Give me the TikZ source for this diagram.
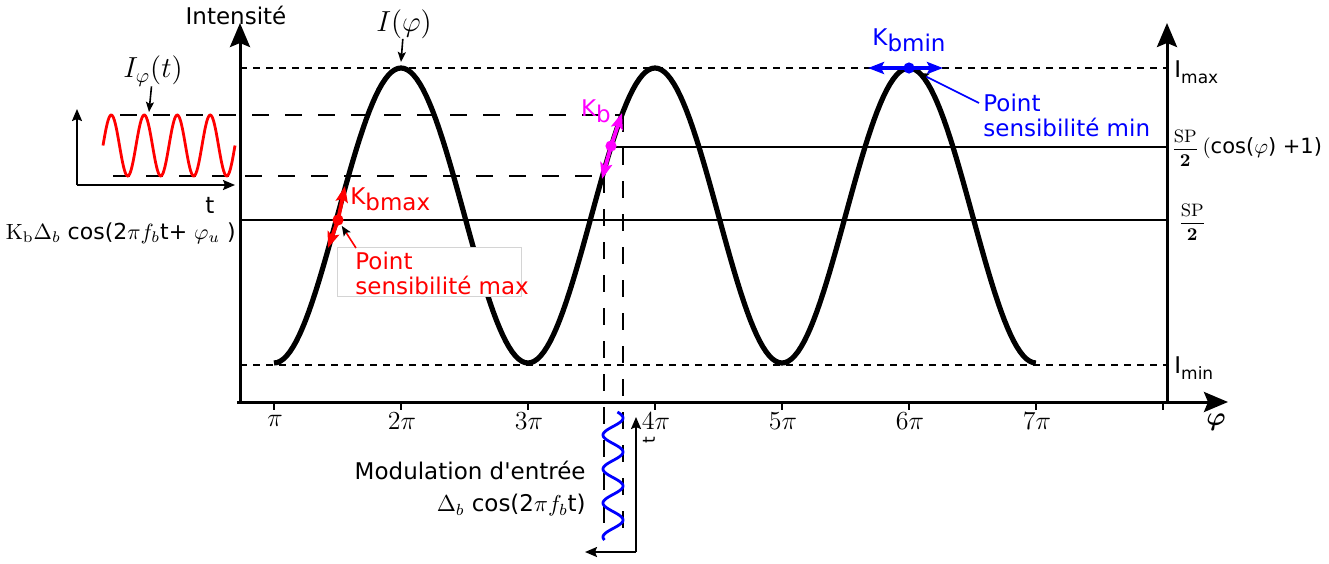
\RequirePackage{fix-cm}
\documentclass[tikz,border=0pt]{standalone}
\usepackage{amsmath,amssymb}
\usepackage[no-math]{fontspec}
\setmainfont{DejaVu Sans}
\usetikzlibrary{arrows.meta}
\definecolor{sred}{HTML}{FF0000}
\definecolor{sblue}{HTML}{0000FF}
\definecolor{smag}{HTML}{FF00FF}
\definecolor{boxgray}{HTML}{D4D4D4}
\newcommand{\Klab}[1]{K\raisebox{-0.45ex}{#1}}
\newcommand{\Ilab}[1]{I\raisebox{-0.5ex}{\fontsize{8.5}{10}\selectfont #1}}
\newcommand{\SPfrac}{{\fontsize{9}{9}\selectfont$\dfrac{\mathrm{SP}}{\mathbf{2}}$}}

\begin{document}
\begin{tikzpicture}[x=0.5pt,y=-0.5pt,font=\fontsize{11.5}{12.5}\selectfont,every node/.style={inner sep=0pt,align=left},
  axis/.style={line width=1.5pt,-{Stealth[length=12pt,width=10pt,inset=2pt]}},
  smallaxis/.style={line width=1pt,-{Stealth[length=6pt,width=5pt,inset=1pt]}},
  pointer/.style={line width=0.8pt,-{Stealth[length=5pt,width=4pt,inset=1pt]}},
  blackptr/.style={line width=0.8pt,-{Stealth[length=5pt,width=4pt,inset=1pt,black]}},
  curve/.style={line width=2.6pt,line join=round},
  wave/.style={line width=1.4pt},
  level/.style={line width=0.8pt,dash pattern=on 3.5pt off 3pt},
  guide/.style={line width=1pt,dash pattern=on 8.5pt off 8pt},
  plain/.style={line width=0.8pt},
  sens/.style={line width=1.9pt,-{Stealth[length=8pt,width=6pt,inset=1.5pt]}},
  mathlbl/.style={font=\fontsize{14.5}{15}\selectfont},
  ticklbl/.style={font=\fontsize{13}{13}\selectfont}]
  \useasboundingbox (0,0) rectangle (1329,563);
  \coordinate (O) at (240,402);
  \coordinate (xstart) at (237,402);
  \coordinate (xend) at (1228,402);
  \coordinate (ytop) at (240,23);
  \coordinate (rbot) at (1167,402);
  \coordinate (rtop) at (1167,23);
  \draw[level] (240,68) -- (1167,68);
  \draw[level] (240,365) -- (1167,365);
  \draw[plain] (240,220) -- (1167,220);
  \draw[plain] (612,147) -- (1167,147);
  \draw[guide] (120,115) -- (621,115);
  \draw[guide] (113,176) -- (603,176);
  \draw[guide] (604,176) -- (604,540);
  \draw[guide] (623,115) -- (623,540);
  \draw[axis] (O) -- (ytop);
  \draw[axis] (rbot) -- (rtop);
  \draw[axis] (xstart) -- (xend);
  \foreach \n in {1,...,7} {
    \draw[plain] ({274+127*(\n-1)},402) -- ({274+127*(\n-1)},410);
    \node[ticklbl] (pi\n) at ({275+127*(\n-1)},421) {\ifnum\n=1 $\pi$\else $\n\pi$\fi};
  }
  \draw[plain] (1163,402) -- (1163,410);
  \draw[curve] plot[domain=1:7,samples=241] ({274+127*(\x-1)},{215.5-147.5*cos(180*\x)});
  \node (intens) at (236,15) {Intensité};
  \node[mathlbl] (iphi) at (404,24) {$I(\varphi)$};
  \coordinate (peak) at (401,62);
  \draw[pointer] (iphi) -- (peak);
  \node[anchor=west] (imax) at (1174,72) {\Ilab{max}};
  \node[anchor=west] (imin) at (1174,368) {\Ilab{min}};
  \node[anchor=west,font=\fontsize{10.5}{11}\selectfont] (spcos) at (1171,148) {\SPfrac\,$($cos($\varphi$) +1)};
  \node[anchor=west,font=\fontsize{10.5}{11}\selectfont] (sp) at (1178,222) {\SPfrac};
  \node[font=\fontsize{13}{13}\selectfont] (philbl) at (1216,422) {$\boldsymbol{\varphi}$};
  \coordinate (io) at (77,185);
  \coordinate (itop) at (77,109);
  \coordinate (iend) at (235,185);
  \draw[smallaxis] (io) -- (itop);
  \draw[smallaxis] (io) -- (iend);
  \draw[wave,sred] plot[domain=103:235,samples=150] (\x,{145.5-30.5*sin(10.909*(\x-103))});
  \node[mathlbl] (iphit) at (153,71) {$I_\varphi(t)$};
  \coordinate (iphitip) at (149,112);
  \draw[pointer] (iphit) -- (iphitip);
  \node (tlbl) at (210,205) {t};
  \node[anchor=east,font=\fontsize{11}{12}\selectfont] (formula) at (236,233) {$\mathrm{K_b}\Delta_b$ cos(2$\pi f_b$t+ $\varphi_u$ )};
  \draw[wave,sblue] plot[domain=412:540,samples=150] ({613+10*cos(10.588*(\x-418))},\x);
  \coordinate (tc) at (636,552);
  \coordinate (tup) at (636,417);
  \coordinate (tleft) at (585,552);
  \draw[smallaxis] (tc) -- (tup);
  \draw[smallaxis] (tc) -- (tleft);
  \node[rotate=90,font=\fontsize{8.5}{9}\selectfont] (tmod) at (649,440) {t};
  \node[anchor=east,align=right] (modlbl) at (586,489) {Modulation d\textquotesingle entrée\\[3.5pt]$\Delta_b$ cos(2$\pi f_b$t)};
  \coordinate (kbmaxdot) at (338,220);
  \coordinate (kbmaxup) at (345,186);
  \coordinate (kbmaxdn) at (328,248);
  \draw[sens,sred] (kbmaxdot) -- (kbmaxup);
  \draw[sens,sred] (kbmaxdot) -- (kbmaxdn);
  \fill[sred] (kbmaxdot) circle[radius=2.8pt];
  \node[anchor=west,text=sred] (kbmaxlbl) at (350,199) {\Klab{bmax}};
  \node[draw=boxgray,fill=white,line width=0.5pt,minimum width=92pt,minimum height=24.5pt] (maxbox) at (429,272) {};
  \node[anchor=west,text=sred] (maxtxt) at (355,273) {Point\\sensibilité max};
  \coordinate (maxfrom) at (356,248);
  \draw[blackptr,sred,shorten >=3.5pt] (maxfrom) -- (kbmaxdot);
  \coordinate (kbdot) at (611,146);
  \coordinate (kbup) at (622,113);
  \coordinate (kbdn) at (602,179);
  \draw[sens,smag] (kbdot) -- (kbup);
  \draw[sens,smag] (kbdot) -- (kbdn);
  \fill[smag] (kbdot) circle[radius=2.8pt];
  \node[text=smag] (kblbl) at (596,111) {\Klab{b}};
  \coordinate (kbmindot) at (909,68);
  \coordinate (kbminl) at (868,68);
  \coordinate (kbminr) at (943,68);
  \draw[sens,sblue] (kbmindot) -- (kbminl);
  \draw[sens,sblue] (kbmindot) -- (kbminr);
  \fill[sblue] (kbmindot) circle[radius=2.8pt];
  \node[text=sblue] (kbminlbl) at (909,40) {\Klab{bmin}};
  \node[anchor=west,text=sblue] (mintxt) at (983,115) {Point\\sensibilité min};
  \coordinate (minfrom) at (979,103);
  \draw[blackptr,sblue,shorten >=5.5pt] (minfrom) -- (kbmindot);
\end{tikzpicture}
\end{document}
